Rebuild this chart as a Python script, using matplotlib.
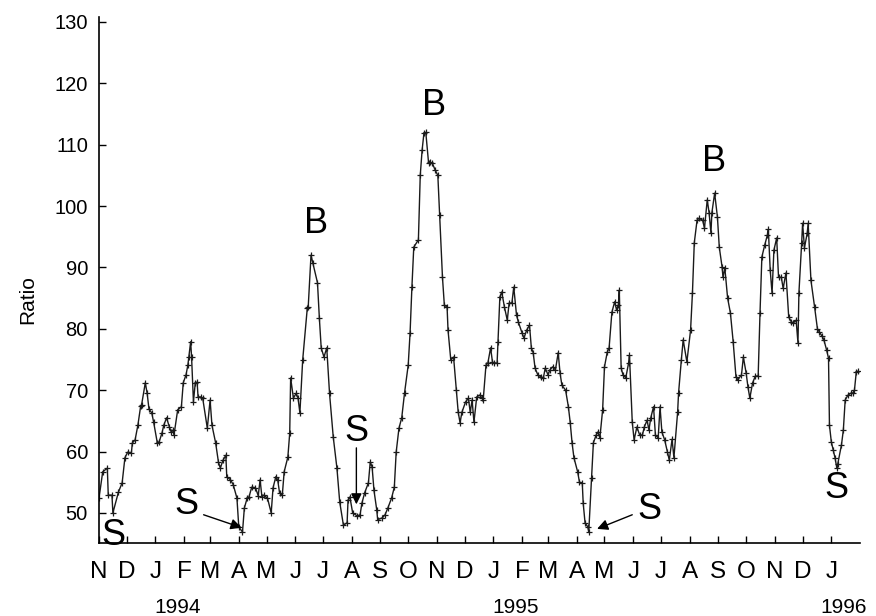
import datetime as dt
import matplotlib
matplotlib.use("Agg")
import matplotlib.pyplot as plt
import matplotlib.transforms as mtransforms

plt.rcParams['font.family'] = ['Liberation Sans', 'DejaVu Sans']

# Ratio series: day offsets from 1 Nov 1993 and observed ratio
START = dt.date(1993, 11, 1)
days = [0, 4, 9, 10, 14, 15, 21, 25, 28, 31, 35, 36, 39, 42, 45, 46, 50, 52, 54, 57,
        59, 63, 65, 68, 70, 73, 76, 78, 80, 81, 85, 89, 91, 94, 96, 97, 99, 100, 102, 104,
        106, 107, 110, 112, 117, 120, 122, 126, 129, 131, 134, 137, 138, 142, 145, 149, 151, 155, 157, 160,
        162, 165, 169, 172, 174, 176, 178, 182, 186, 188, 191, 193, 195, 198, 200, 204, 206, 207, 210, 213,
        215, 217, 220, 225, 226, 229, 231, 236, 238, 240, 243, 246, 249, 253, 257, 260, 264, 268, 269, 271,
        274, 279, 282, 284, 287, 291, 293, 295, 297, 300, 301, 306, 309, 312, 316, 319, 321, 324, 327, 330,
        334, 336, 338, 340, 345, 347, 349, 351, 353, 356, 358, 360, 363, 366, 368, 371, 373, 376, 377, 380,
        383, 386, 388, 390, 392, 396, 399, 401, 403, 405, 408, 411, 414, 415, 418, 420, 423, 425, 427, 430,
        431, 433, 435, 438, 441, 443, 446, 448, 451, 453, 457, 459, 462, 465, 467, 469, 471, 474, 477, 480,
        482, 485, 487, 490, 493, 496, 498, 500, 504, 507, 509, 511, 513, 517, 519, 522, 523, 525, 528, 529,
        532, 534, 537, 539, 541, 544, 546, 549, 551, 554, 557, 559, 561, 562, 564, 566, 569, 572, 573, 576,
        578, 581, 584, 587, 589, 592, 594, 596, 599, 601, 604, 606, 608, 611, 614, 616, 619, 621, 625, 626,
        629, 631, 635, 639, 641, 643, 646, 648, 652, 654, 657, 659, 661, 662, 665, 668, 670, 673, 674, 676,
        679, 682, 685, 688, 690, 694, 696, 699, 701, 703, 706, 709, 712, 714, 716, 719, 722, 723, 725, 727,
        729, 732, 734, 737, 739, 742, 745, 748, 750, 753, 755, 756, 759, 760, 762, 765, 766, 769, 773, 776,
        778, 781, 783, 786, 788, 789, 791, 793, 795, 797, 798, 802, 804, 806, 809, 812, 814, 816, 818, 820]
ratio = [52.4, 56.7, 57.3, 52.9, 52.9, 50.0, 53.4, 54.9, 59.0, 59.9, 59.8, 61.4, 61.9, 64.3, 67.4, 67.6, 71.2, 69.5, 66.9, 66.3,
         64.8, 61.4, 61.6, 63.0, 64.3, 65.5, 64.0, 63.2, 63.5, 62.7, 66.8, 67.3, 71.2, 72.5, 74.1, 75.4, 77.9, 75.4, 68.1, 71.2,
         71.3, 68.9, 68.9, 68.7, 63.8, 68.4, 64.3, 61.4, 58.3, 57.3, 58.6, 59.4, 55.9, 55.4, 54.6, 52.4, 47.7, 46.9, 50.8, 52.4,
         52.6, 54.2, 54.1, 52.8, 55.4, 52.6, 52.9, 52.4, 50.0, 54.1, 55.9, 55.4, 53.3, 52.9, 56.7, 59.1, 63.0, 72.0, 68.7, 69.5,
         68.7, 66.3, 74.9, 83.4, 83.6, 92.0, 90.7, 87.5, 81.8, 76.9, 75.4, 76.9, 69.5, 62.4, 57.3, 51.8, 48.0, 48.4, 52.1, 52.6,
         50.0, 49.5, 49.7, 51.6, 53.3, 54.9, 58.3, 57.5, 53.7, 50.5, 48.9, 49.2, 49.7, 50.8, 52.4, 54.2, 59.9, 63.8, 65.5, 69.5,
         74.1, 79.3, 86.8, 93.3, 94.5, 105.0, 109.1, 111.9, 112.0, 107.0, 107.1, 107.0, 105.9, 105.0, 98.5, 88.4, 83.9, 83.5, 79.8, 74.9,
         75.4, 70.0, 66.4, 64.7, 66.4, 68.1, 68.7, 66.4, 68.4, 64.8, 68.9, 69.2, 68.7, 68.4, 74.1, 74.4, 76.9, 74.6, 74.4, 74.4,
         77.9, 85.2, 86.0, 83.5, 81.4, 84.2, 84.2, 86.8, 82.2, 81.1, 79.3, 78.5, 79.8, 80.6, 76.9, 76.1, 73.6, 72.5, 72.2, 72.0,
         73.6, 72.5, 73.3, 73.8, 73.3, 76.1, 72.8, 70.8, 70.0, 67.3, 64.7, 61.4, 59.0, 56.7, 55.0, 54.9, 51.6, 48.4, 47.7, 46.9,
         55.7, 61.4, 62.7, 63.2, 62.2, 66.8, 73.8, 76.2, 76.9, 82.7, 84.4, 83.1, 83.9, 86.3, 73.6, 72.5, 72.0, 74.4, 75.7, 64.8,
         61.9, 64.0, 62.7, 62.7, 64.0, 65.1, 63.5, 65.5, 67.3, 62.7, 62.2, 67.3, 63.2, 61.9, 59.9, 58.6, 62.0, 59.0, 66.4, 69.5,
         74.9, 78.2, 74.6, 79.8, 85.8, 94.0, 97.7, 98.0, 97.7, 96.4, 101.0, 98.9, 95.6, 98.9, 102.1, 98.2, 93.3, 90.1, 88.4, 89.9,
         85.0, 82.6, 77.9, 72.2, 71.7, 72.5, 75.4, 72.8, 70.5, 68.7, 71.2, 72.3, 72.3, 82.6, 91.7, 93.6, 95.3, 96.2, 89.6, 85.8,
         92.8, 94.8, 88.4, 88.4, 86.6, 89.1, 81.9, 81.1, 81.0, 81.4, 77.7, 85.8, 94.0, 97.2, 93.2, 95.6, 97.2, 87.9, 83.5, 80.0,
         79.5, 78.8, 78.2, 76.5, 75.2, 64.3, 61.6, 60.3, 59.0, 57.3, 58.0, 61.1, 63.5, 68.4, 69.2, 69.5, 69.5, 70.0, 73.0, 73.1]

month_letters = ['N', 'D', 'J', 'F', 'M', 'A', 'M', 'J', 'J', 'A', 'S', 'O',
                 'N', 'D', 'J', 'F', 'M', 'A', 'M', 'J', 'J', 'A', 'S', 'O',
                 'N', 'D', 'J']
years = ['1994', '1995', '1996']
year_days = [85, 450, 804]
y_ticks = [50, 60, 70, 80, 90, 100, 110, 120, 130]

# Buy / sell signal letters and where they sit
signal_labels = ['S', 'S', 'B', 'S', 'B', 'S', 'B', 'S']
signal_days = [16, 94, 235, 278, 362, 594, 664, 796]
signal_levels = [46.4, 51.3, 97.2, 63.2, 116.4, 50.5, 107.3, 53.9]

# Arrows from a signal letter to the trough it marks: (tail, head)
arrows = [((113, 49.7), (154, 47.6)),
          ((278, 60.6), (278, 51.4)),
          ((576, 49.7), (538, 47.4))]


def month_starts(first, count):
    out = []
    y, m = first.year, first.month
    for _ in range(count):
        out.append((dt.date(y, m, 1) - START).days)
        m += 1
        if m > 12:
            m, y = 1, y + 1
    return out


fig = plt.figure(figsize=(8.76, 6.16), dpi=100)
ax = fig.add_axes([99 / 876, 1 - 543 / 616, (860 - 99) / 876, (543 - 17) / 616])

ax.plot(days, ratio, color='#1a1a1a', lw=1.0, marker='+', ms=4.5, mew=0.9)

ax.set_xlim(0, (dt.date(1996, 2, 1) - START).days)
ax.set_ylim(45.1, 130.8)

tick_days = month_starts(START, len(month_letters))
ax.set_xticks(tick_days)
ax.set_xticklabels(month_letters, fontsize=17.5)
ax.set_yticks(y_ticks)
ax.set_yticklabels([str(v) for v in y_ticks], fontsize=14.5)

ax.tick_params(axis='x', direction='in', length=5, width=1, pad=13)
ax.tick_params(axis='y', direction='in', length=5, width=1, pad=8)
for side in ('top', 'right'):
    ax.spines[side].set_visible(False)
for side in ('left', 'bottom'):
    ax.spines[side].set_linewidth(1.2)

trans = mtransforms.blended_transform_factory(ax.transData, ax.transAxes)
for label, d in zip(years, year_days):
    ax.text(d, -0.1217, label, transform=trans, ha='center', va='center',
            fontsize=15, clip_on=False)

fig.text(28 / 876, 1 - 300 / 616, 'Ratio', rotation=90, ha='center', va='center',
         fontsize=15)

for label, d, v in zip(signal_labels, signal_days, signal_levels):
    ax.text(d, v, label, ha='center', va='center', fontsize=26, clip_on=False)

arrow_kw = dict(arrowstyle='-|>', color='black', lw=1.0, mutation_scale=16,
                shrinkA=0, shrinkB=0)
for tail, head in arrows:
    ax.annotate('', xy=head, xytext=tail, arrowprops=arrow_kw)

fig.savefig('out.png', dpi=100)
